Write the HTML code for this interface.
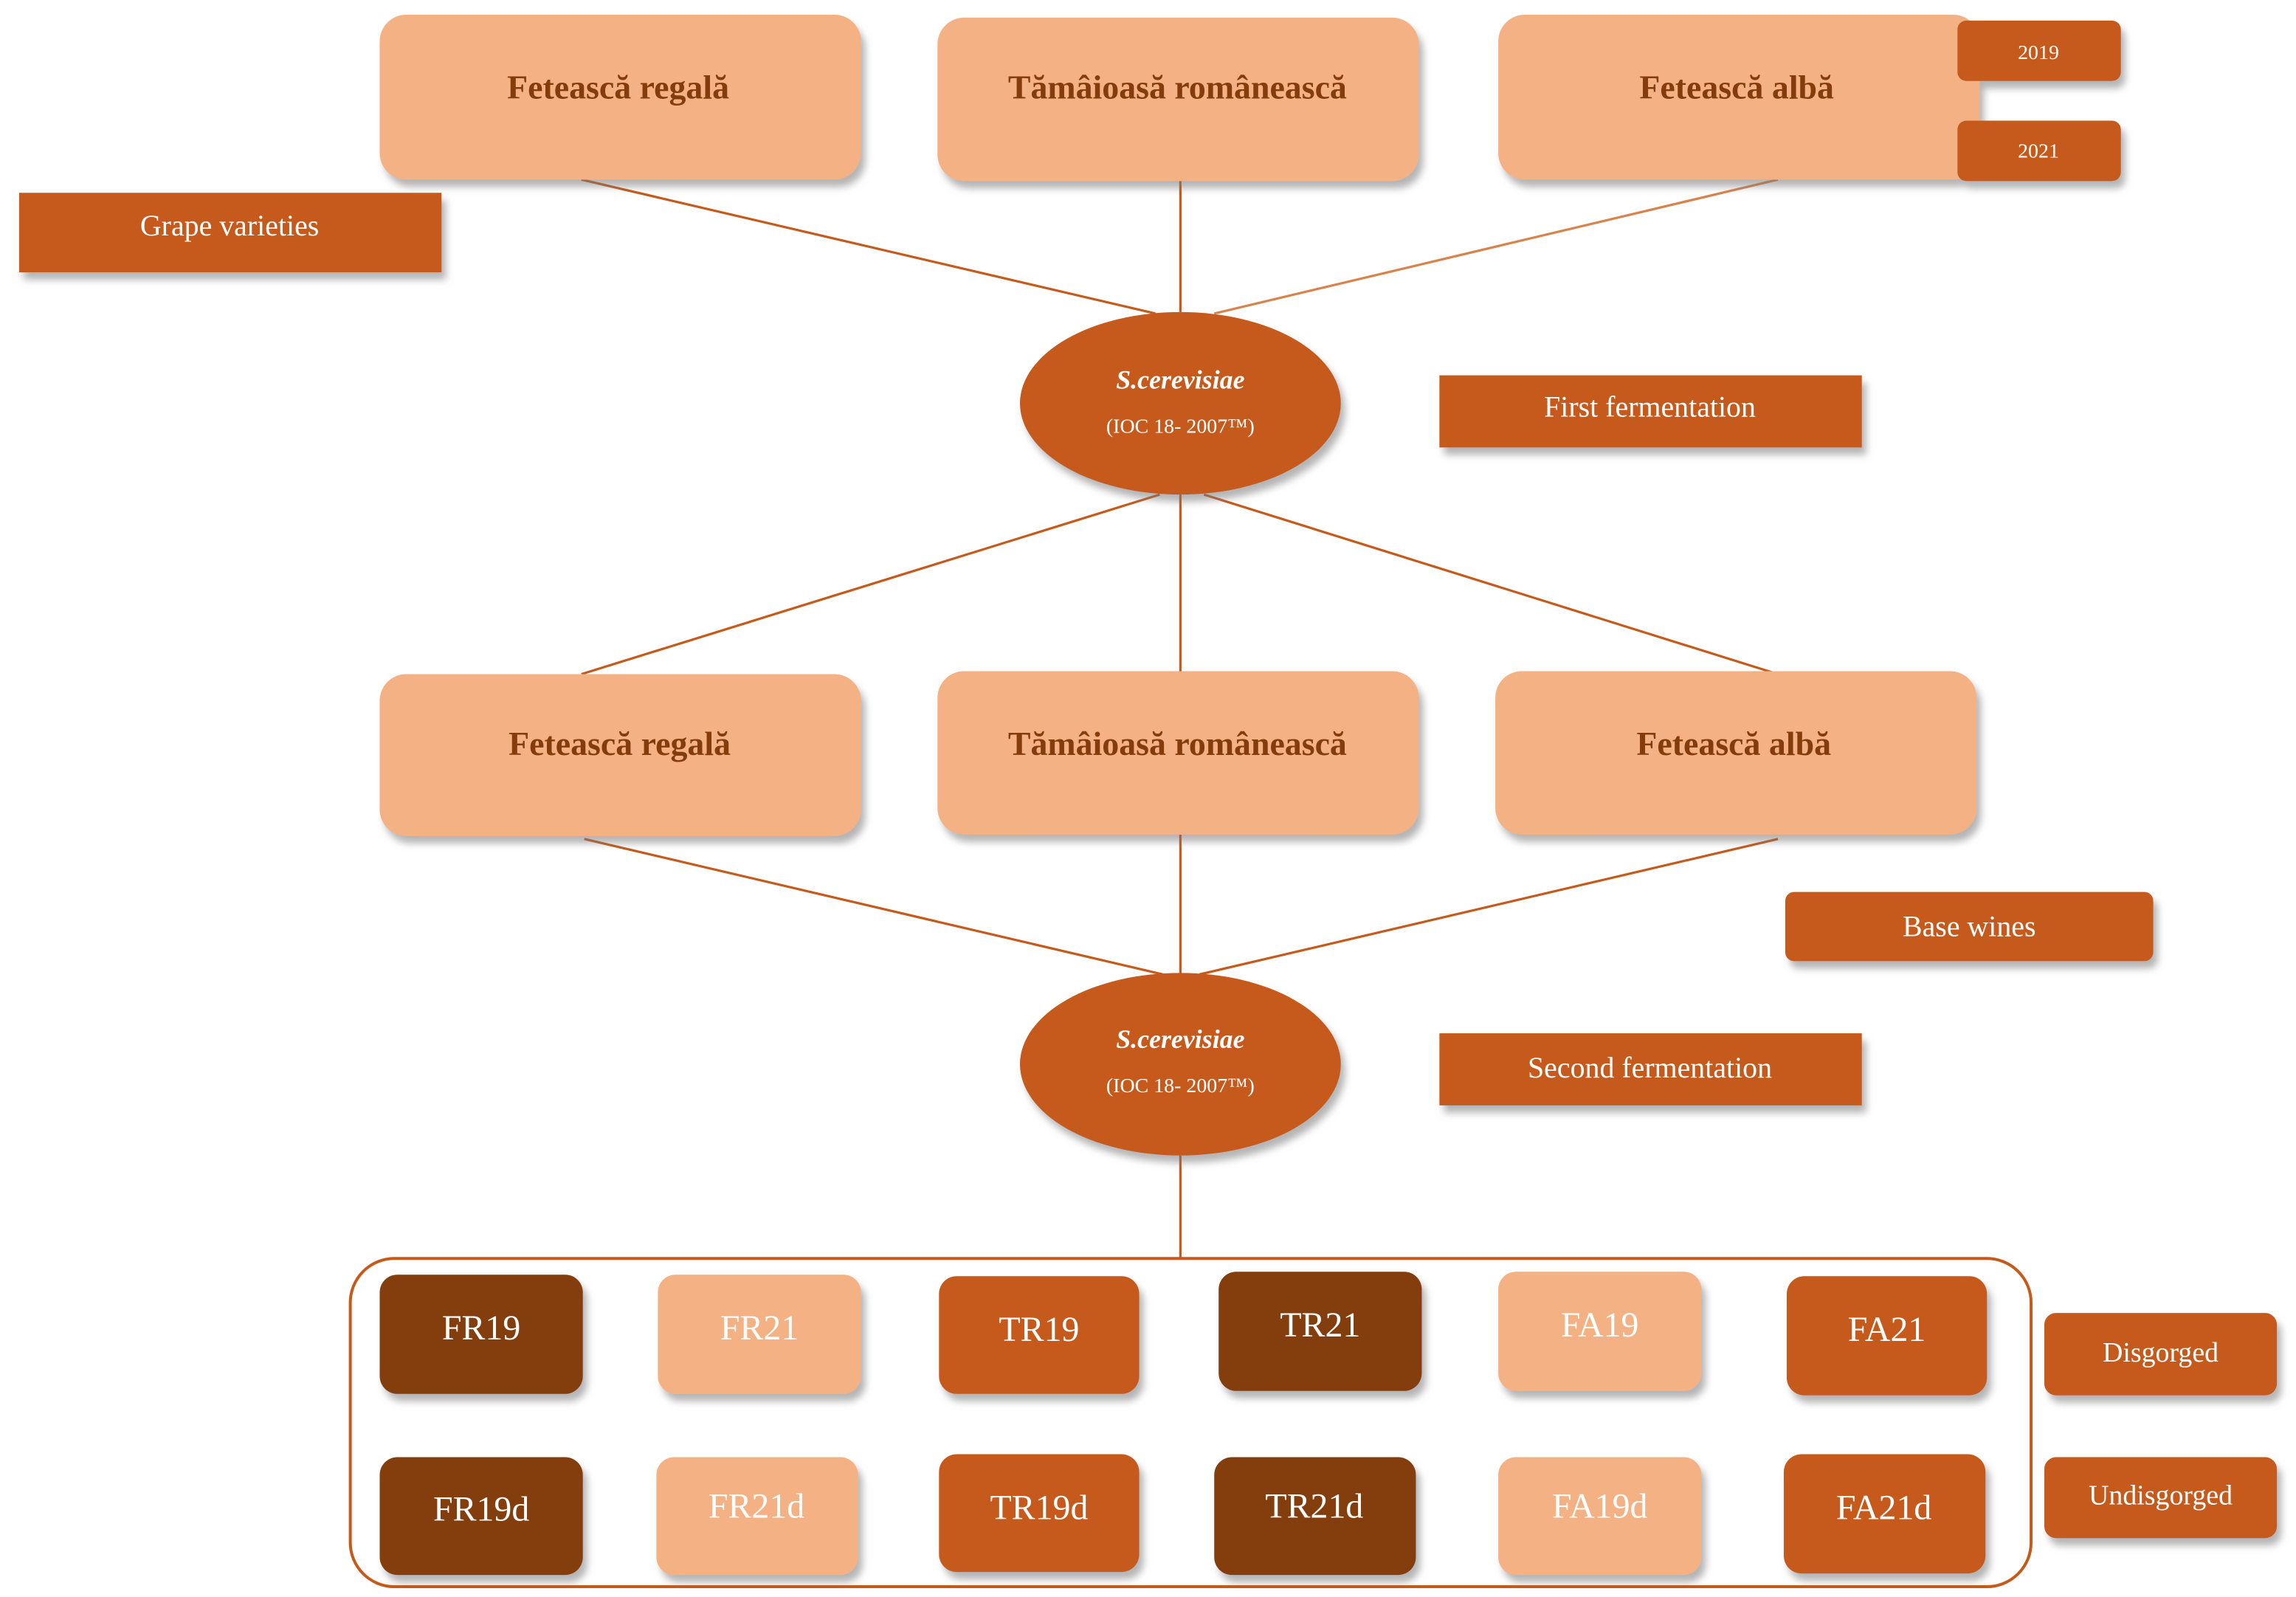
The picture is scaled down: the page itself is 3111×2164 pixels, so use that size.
<!DOCTYPE html>
<html><head><meta charset="utf-8"><style>
html,body{margin:0;padding:0;background:#fff;}
svg{display:block;}
text{font-family:"Liberation Serif",serif;}
</style></head><body>
<svg width="3111" height="2164" viewBox="0 0 1560 1085" preserveAspectRatio="none" xmlns="http://www.w3.org/2000/svg">
<defs>
<filter id="sh" x="-10%" y="-10%" width="130%" height="140%">
<feDropShadow dx="3" dy="5" stdDeviation="2.5" flood-color="#777" flood-opacity="0.55"/>
</filter>
</defs>
<g stroke="#C55A1A" stroke-width="1.6" fill="none">
<line x1="395" y1="122" x2="785" y2="213"/>
<line x1="802" y1="123" x2="802" y2="212"/>
<line x1="1208" y1="122" x2="825" y2="213" stroke="#D9824A"/>
<line x1="788" y1="336" x2="395" y2="458"/>
<line x1="802" y1="336" x2="802" y2="458"/>
<line x1="818" y1="336" x2="1208" y2="458"/>
<line x1="397" y1="570" x2="790" y2="662"/>
<line x1="802" y1="567" x2="802" y2="662"/>
<line x1="1208" y1="570" x2="815" y2="662"/>
<line x1="802" y1="785" x2="802" y2="855"/>
<rect x="238" y="855" width="1142" height="223" rx="30" stroke-width="2"/>
</g>
<g filter="url(#sh)">
<rect x="258" y="10" width="327" height="112" rx="18" fill="#F4B183"/>
<rect x="637" y="12" width="327" height="111" rx="18" fill="#F4B183"/>
<rect x="1018" y="10" width="327" height="112" rx="18" fill="#F4B183"/>
<rect x="1330" y="14" width="111" height="41" rx="6" fill="#C55A1A"/>
<rect x="1330" y="82" width="111" height="41" rx="6" fill="#C55A1A"/>
<rect x="13" y="131" width="287" height="54" fill="#C55A1A"/>
<ellipse cx="802" cy="274" rx="109" ry="62" fill="#C55A1A"/>
<rect x="978" y="255" width="287" height="49" fill="#C55A1A"/>
<rect x="258" y="458" width="327" height="110" rx="18" fill="#F4B183"/>
<rect x="637" y="456" width="327" height="111" rx="18" fill="#F4B183"/>
<rect x="1016" y="456" width="327" height="111" rx="18" fill="#F4B183"/>
<rect x="1213" y="606" width="250" height="47" rx="6" fill="#C55A1A"/>
<ellipse cx="802" cy="723" rx="109" ry="62" fill="#C55A1A"/>
<rect x="978" y="702" width="287" height="49" fill="#C55A1A"/>
<rect x="258" y="866" width="138" height="81" rx="12" fill="#843C0C"/>
<rect x="447" y="866" width="138" height="81" rx="12" fill="#F4B183"/>
<rect x="638" y="867" width="136" height="80" rx="12" fill="#C55A1A"/>
<rect x="828" y="864" width="138" height="81" rx="12" fill="#843C0C"/>
<rect x="1018" y="864" width="138" height="81" rx="12" fill="#F4B183"/>
<rect x="1214" y="867" width="136" height="81" rx="12" fill="#C55A1A"/>
<rect x="258" y="990" width="138" height="80" rx="12" fill="#843C0C"/>
<rect x="446" y="990" width="137" height="80" rx="12" fill="#F4B183"/>
<rect x="638" y="988" width="136" height="80" rx="12" fill="#C55A1A"/>
<rect x="825" y="990" width="137" height="80" rx="12" fill="#843C0C"/>
<rect x="1018" y="990" width="138" height="80" rx="12" fill="#F4B183"/>
<rect x="1212" y="988" width="137" height="81" rx="12" fill="#C55A1A"/>
<rect x="1389" y="892" width="158" height="56" rx="8" fill="#C55A1A"/>
<rect x="1389" y="990" width="158" height="55" rx="8" fill="#C55A1A"/>
</g>
<g fill="#843C0C" font-weight="bold" font-size="23" text-anchor="middle">
<text x="420" y="67">Fetească regală</text>
<text x="800" y="67">Tămâioasă  românească</text>
<text x="1180" y="67">Fetească albă</text>
<text x="421" y="513">Fetească regală</text>
<text x="800" y="513">Tămâioasă  românească</text>
<text x="1178" y="513">Fetească albă</text>
</g>
<g fill="#fff" text-anchor="middle">
<text x="1385" y="40" font-size="14">2019</text>
<text x="1385" y="107" font-size="14">2021</text>
<text x="156" y="160" font-size="20">Grape varieties</text>
<text x="802" y="264" font-size="18" font-style="italic" font-weight="bold">S.cerevisiae</text>
<text x="802" y="294" font-size="14">(IOC 18- 2007™)</text>
<text x="1121" y="283" font-size="20">First fermentation</text>
<text x="1338" y="636" font-size="20">Base wines</text>
<text x="802" y="712" font-size="18" font-style="italic" font-weight="bold">S.cerevisiae</text>
<text x="802" y="742" font-size="14">(IOC 18- 2007™)</text>
<text x="1121" y="732" font-size="20">Second fermentation</text>
<g font-size="24">
<text x="327" y="910">FR19</text>
<text x="516" y="910">FR21</text>
<text x="706" y="911">TR19</text>
<text x="897" y="908">TR21</text>
<text x="1087" y="908">FA19</text>
<text x="1282" y="911">FA21</text>
<text x="327" y="1033">FR19d</text>
<text x="514" y="1031">FR21d</text>
<text x="706" y="1032">TR19d</text>
<text x="893" y="1031">TR21d</text>
<text x="1087" y="1031">FA19d</text>
<text x="1280" y="1032">FA21d</text>
</g>
<text x="1468" y="925" font-size="19">Disgorged</text>
<text x="1468" y="1022" font-size="19">Undisgorged</text>
</g>
</svg>
</body></html>
